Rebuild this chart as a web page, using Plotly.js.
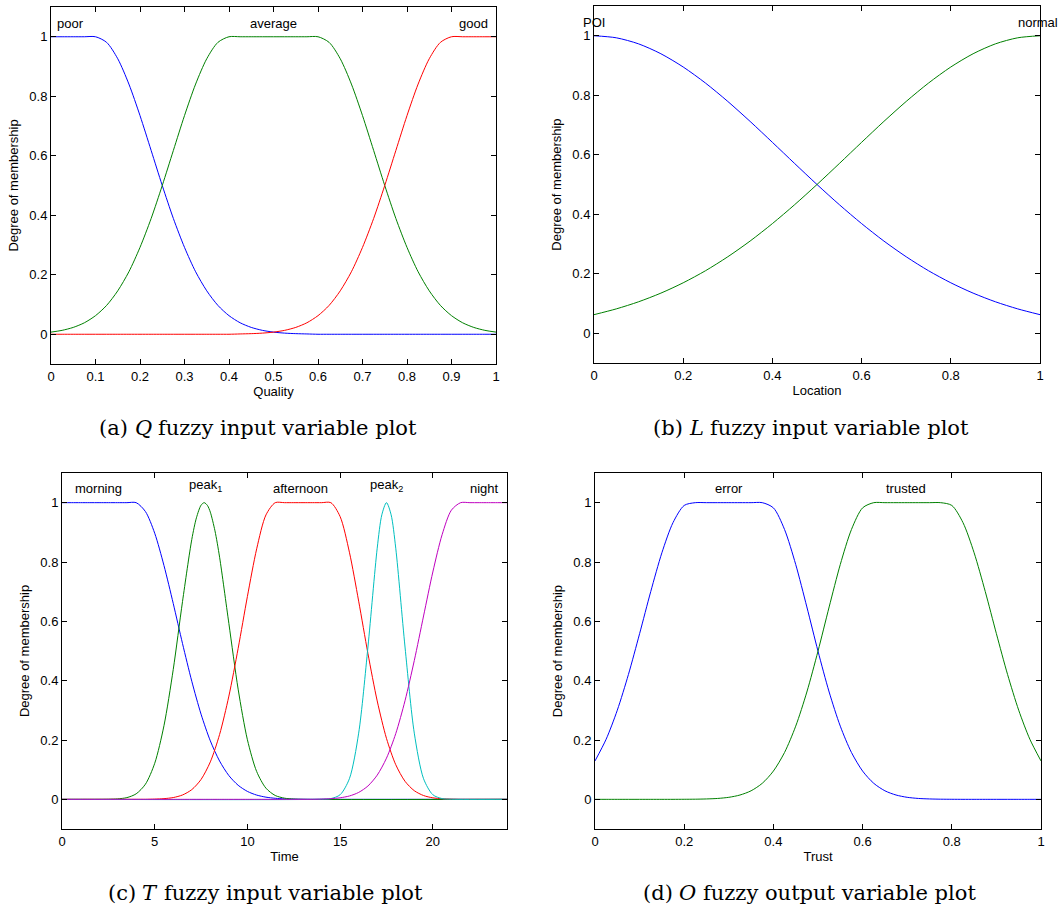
<!DOCTYPE html>
<html><head><meta charset="utf-8">
<script src="https://cdn.plot.ly/plotly-3.0.1.min.js"></script>
<style>html,body{margin:0;padding:0;background:#fff}#chart{width:1059px;height:909px}</style>
</head><body><div id="chart"></div>
<script>
// ---------- Panel (a): Quality ----------
const qualityX = [0,0.025,0.05,0.075,0.1,0.125,0.15,0.175,0.2,0.225,0.25,0.275,0.3,0.325,0.35,0.375,0.4,0.425,0.45,0.475,0.5,0.525,0.55,0.575,0.6,0.625,0.65,0.675,0.7,0.725,0.75,0.775,0.8,0.825,0.85,0.875,0.9,0.925,0.95,0.975,1];
const poor = [1,1,1,1,1,0.981,0.926,0.841,0.735,0.618,0.5,0.389,0.292,0.21,0.146,0.097,0.0625,0.0386,0.023,0.0131,0.0072,0.0038,0.002,0.001,0,0,0,0,0,0,0,0,0,0,0,0,0,0,0,0,0];
const average = [0.0072,0.0131,0.023,0.0386,0.0625,0.097,0.146,0.21,0.292,0.389,0.5,0.618,0.735,0.841,0.926,0.981,1,1,1,1,1,1,1,1,1,0.981,0.926,0.841,0.735,0.618,0.5,0.389,0.292,0.21,0.146,0.097,0.0625,0.0386,0.023,0.0131,0.0072];
const good = [0,0,0,0,0,0,0,0,0,0,0,0,0,0,0,0,0,0.001,0.002,0.0038,0.0072,0.0131,0.023,0.0386,0.0625,0.097,0.146,0.21,0.292,0.389,0.5,0.618,0.735,0.841,0.926,0.981,1,1,1,1,1];
const qualityTicks = [0,0.1,0.2,0.3,0.4,0.5,0.6,0.7,0.8,0.9,1];
const qualityTickText = ['0','0.1','0.2','0.3','0.4','0.5','0.6','0.7','0.8','0.9','1'];

// ---------- Panel (b): Location ----------
const locationX = [0,0.05,0.1,0.15,0.2,0.25,0.3,0.35,0.4,0.45,0.5,0.55,0.6,0.65,0.7,0.75,0.8,0.85,0.9,0.95,1];
const poi = [1,0.9931,0.9727,0.9395,0.895,0.8409,0.7792,0.7121,0.6417,0.5704,0.5,0.4323,0.3686,0.3099,0.2571,0.2102,0.1696,0.1349,0.1058,0.0819,0.0625];
const normal = [0.0625,0.0819,0.1058,0.1349,0.1696,0.2102,0.2571,0.3099,0.3686,0.4323,0.5,0.5704,0.6417,0.7121,0.7792,0.8409,0.895,0.9395,0.9727,0.9931,1];
const fifthTicks = [0,0.2,0.4,0.6,0.8,1];
const fifthTickText = ['0','0.2','0.4','0.6','0.8','1'];

// ---------- Panel (c): Time ----------
const timeX = [0,0.5,1,1.5,2,2.5,3,3.5,4,4.5,5,5.5,6,6.5,7,7.5,8,8.5,9,9.5,10,10.5,11,11.5,12,12.5,13,13.5,14,14.5,15,15.5,16,16.5,17,17.5,18,18.5,19,19.5,20,20.5,21,21.5,22,22.5,23,23.5,24];
const morning = [1,1,1,1,1,1,1,1,1,0.970,0.897,0.788,0.660,0.525,0.398,0.287,0.197,0.129,0.080,0.0474,0.0267,0.0143,0.0073,0.0035,0.0016,0.0007,0.0003,0,0,0,0,0,0,0,0,0,0,0,0,0,0,0,0,0,0,0,0,0,0];
const peak1X = [0,2.5,3,3.5,4,4.5,5,5.5,6,6.5,7,7.25,7.5,7.67,7.85,8,8.25,8.5,9,9.5,10,10.5,11,11.5,12,12.5,13,24];
const peak1 = [0,0.0004,0.0016,0.0058,0.0186,0.0511,0.1214,0.2483,0.438,0.667,0.876,0.949,0.9915,1,0.990,0.968,0.905,0.816,0.5925,0.3713,0.2007,0.0935,0.0376,0.013,0.0039,0.001,0,0];
const afternoon = [0,0,0,0,0,0,0,0,0,0,0.0008,0.0023,0.006,0.0147,0.0327,0.067,0.1263,0.2187,0.348,0.5088,0.684,0.8446,0.9587,1,1,1,1,1,1,1,0.953,0.833,0.668,0.4914,0.3317,0.2054,0.1167,0.0608,0.0291,0.0128,0.0051,0.0019,0.0006,0,0,0,0,0,0];
const peak2X = [0,14,14.5,15,15.5,16,16.5,17,17.25,17.5,17.75,18,18.5,19,19.5,20,20.5,21,24];
const peak2 = [0,0.0003,0.0025,0.0155,0.0695,0.2231,0.5134,0.8465,0.9592,1,0.9592,0.8465,0.5134,0.2231,0.0695,0.0155,0.0025,0.0003,0];
const night = [0,0,0,0,0,0,0,0,0,0,0,0,0,0,0,0,0,0,0,0,0,0,0,0,0,0,0,0,0.0009,0.0022,0.0052,0.0113,0.0233,0.045,0.0815,0.1388,0.2216,0.3324,0.4678,0.618,0.7664,0.892,0.9747,1,1,1,1,1,1];
const timeTicks = [0,5,10,15,20];
const timeTickText = ['0','5','10','15','20'];

// ---------- Panel (d): Trust ----------
const trustX = qualityX;
const error = [0.1294,0.2027,0.3004,0.4211,0.5584,0.7005,0.8312,0.933,0.9907,1,1,1,1,1,1,1,0.9825,0.9095,0.7918,0.6485,0.4995,0.3618,0.2466,0.158,0.0953,0.054,0.0288,0.0145,0.0068,0.003,0.0013,0.0005,0.0002,0,0,0,0,0,0,0,0];
const trusted = [0,0,0,0,0,0,0,0,0.0002,0.0005,0.0013,0.003,0.0068,0.0145,0.0288,0.054,0.0953,0.158,0.2466,0.3618,0.4995,0.6485,0.7918,0.9095,0.9825,1,1,1,1,1,1,1,0.9907,0.933,0.8312,0.7005,0.5584,0.4211,0.3004,0.2027,0.1294];

const membershipTicks = [0,0.2,0.4,0.6,0.8,1];
const membershipTickText = ['0','0.2','0.4','0.6','0.8','1'];
const yTitle = 'Degree of membership';

// captions: [prefix, italic symbol, rest]
const captionParts = [
  ['(a)', 'Q', 'fuzzy input variable plot'],
  ['(b)', 'L', 'fuzzy input variable plot'],
  ['(c)', 'T', 'fuzzy input variable plot'],
  ['(d)', 'O', 'fuzzy output variable plot']
];

// ---------- Layout helpers ----------
const W = 1059, H = 909;
const SANS = 'Liberation Sans, Arial, Helvetica, sans-serif';
const SERIF = 'DejaVu Serif, serif';
const BLUE='#0000ff', GREEN='#008000', RED='#ff0000', CYAN='#00bfbf', MAGENTA='#bf00bf';

function line(x, y, color, xa, ya){
  return {x:x, y:y, xaxis:xa, yaxis:ya, type:'scatter', mode:'lines',
          line:{color:color, width:1, shape:'spline', smoothing:0.8}, hoverinfo:'skip'};
}
const traces = [
  line(qualityX, poor, BLUE, 'x', 'y'),
  line(qualityX, average, GREEN, 'x', 'y'),
  line(qualityX, good, RED, 'x', 'y'),
  line(locationX, poi, BLUE, 'x2', 'y2'),
  line(locationX, normal, GREEN, 'x2', 'y2'),
  line(timeX, morning, BLUE, 'x3', 'y3'),
  line(peak1X, peak1, GREEN, 'x3', 'y3'),
  line(timeX, afternoon, RED, 'x3', 'y3'),
  line(peak2X, peak2, CYAN, 'x3', 'y3'),
  line(timeX, night, MAGENTA, 'x3', 'y3'),
  line(trustX, error, BLUE, 'x4', 'y4'),
  line(trustX, trusted, GREEN, 'x4', 'y4')
];

function axis(extra){
  return Object.assign({showline:true, linecolor:'#000', linewidth:1, mirror:'ticks',
    ticks:'inside', ticklen:5, tickwidth:1, tickcolor:'#000', showgrid:false, zeroline:false,
    fixedrange:true, automargin:false, tickfont:{family:SANS, size:13, color:'#000'}}, extra);
}
function ttl(text, standoff){ return {text:text, standoff:standoff, font:{family:SANS, size:13, color:'#000'}}; }
const fx = p => p / W;
const fy = p => 1 - p / H;

const layout = {
  width:W, height:H, margin:{l:0,r:0,t:0,b:0}, showlegend:false,
  paper_bgcolor:'#fff', plot_bgcolor:'#fff',
  xaxis: axis({domain:[fx(51),fx(496)], range:[0,1], anchor:'y', tickvals:qualityTicks, ticktext:qualityTickText, title:ttl('Quality',4)}),
  yaxis: axis({domain:[fy(364),fy(7)], range:[-0.1,1.1], anchor:'x', tickvals:membershipTicks, ticktext:membershipTickText, title:ttl(yTitle,7)}),
  xaxis2: axis({domain:[fx(594),fx(1040)], range:[0,1], anchor:'y2', tickvals:fifthTicks, ticktext:fifthTickText, title:ttl('Location',4)}),
  yaxis2: axis({domain:[fy(363),fy(6)], range:[-0.1,1.1], anchor:'x2', tickvals:membershipTicks, ticktext:membershipTickText, title:ttl(yTitle,7)}),
  xaxis3: axis({domain:[fx(62),fx(507)], range:[0,24], anchor:'y3', tickvals:timeTicks, ticktext:timeTickText, title:ttl('Time',4)}),
  yaxis3: axis({domain:[fy(829),fy(473)], range:[-0.1,1.1], anchor:'x3', tickvals:membershipTicks, ticktext:membershipTickText, title:ttl(yTitle,7)}),
  xaxis4: axis({domain:[fx(595),fx(1041)], range:[0,1], anchor:'y4', tickvals:fifthTicks, ticktext:fifthTickText, title:ttl('Trust',4)}),
  yaxis4: axis({domain:[fy(829),fy(473)], range:[-0.1,1.1], anchor:'x4', tickvals:membershipTicks, ticktext:membershipTickText, title:ttl(yTitle,7)}),
  annotations: []
};

function txt(text, x, y, xref, yref, opts){
  return Object.assign({text:text, x:x, y:y, xref:xref, yref:yref, showarrow:false,
    xanchor:'center', yanchor:'middle', borderpad:0, borderwidth:0,
    font:{family:SANS, size:13, color:'#000'}}, opts||{});
}
const A = layout.annotations;
// MF labels
A.push(txt('poor', 0.044, 1.044, 'x', 'y'));
A.push(txt('average', 0.5, 1.044, 'x', 'y'));
A.push(txt('good', 0.949, 1.044, 'x', 'y'));
A.push(txt('POI', 0, 1.044, 'x2', 'y2'));
A.push(txt('normal', 0.995, 1.044, 'x2', 'y2'));
A.push(txt('morning', 1.95, 1.048, 'x3', 'y3'));
A.push(txt('peak<sub>1</sub>', 7.74, 1.057, 'x3', 'y3'));
A.push(txt('afternoon', 12.86, 1.048, 'x3', 'y3'));
A.push(txt('peak<sub>2</sub>', 17.5, 1.057, 'x3', 'y3'));
A.push(txt('night', 22.78, 1.048, 'x3', 'y3'));
A.push(txt('error', 0.30, 1.048, 'x4', 'y4'));
A.push(txt('trusted', 0.698, 1.048, 'x4', 'y4'));

// captions: prefix right-anchored at P, italic symbol centred at S, rest left-anchored at R (px)
const capFont = {family:SERIF, size:21, color:'#000'};
const capItal = {family:SERIF, size:21, color:'#000', style:'italic'};
const capPos = [  // [P, S, R, yCenter]
  [128.4, 143.3, 158.3, 428],
  [683.4, 696.8, 710.2, 428],
  [136.2, 149.9, 163.6, 893],
  [672.6, 687.6, 702.5, 893]
];
captionParts.forEach((c, i) => {
  const p = capPos[i];
  A.push(txt(c[0], fx(p[0]), fy(p[3]), 'paper', 'paper', {font:capFont, xanchor:'right'}));
  A.push(txt(c[1], fx(p[1]), fy(p[3]), 'paper', 'paper', {font:capItal}));
  A.push(txt(c[2], fx(p[2]), fy(p[3]), 'paper', 'paper', {font:capFont, xanchor:'left'}));
});

Plotly.newPlot('chart', traces, layout, {staticPlot:true, displayModeBar:false});
</script></body></html>
